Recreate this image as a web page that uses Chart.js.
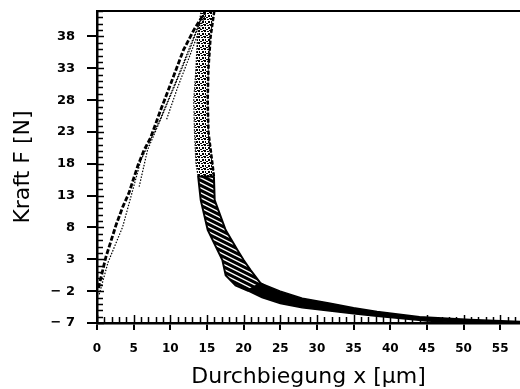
<!DOCTYPE html>
<html><head><meta charset="utf-8">
<script src="https://cdn.jsdelivr.net/npm/chart.js@4/dist/chart.umd.min.js"></script>
<style>html,body{margin:0;padding:0;background:#fff;overflow:hidden}</style>
</head><body>
<canvas id="c" width="520" height="389"></canvas>
<script>
// ---- axis ticks ----
const xTicks = [0,5,10,15,20,25,30,35,40,45,50,55];
const xTickLabels = ['0','5','10','15','20','25','30','35','40','45','50','55'];
const yTicks = [-7,-2,3,8,13,18,23,28,33,38];
const yTickLabels = ['\u2212 7','\u2212 2','3','8','13','18','23','28','33','38'];
const xRange = [0, 57.7];
const yRange = [-7, 42];
const minorStep = 1;

// ---- loading curves ----
const loadDarkX = [0.2, 1.2, 2.6, 3.5, 4.35, 5.6, 6.4, 7.35, 8.6, 10.1, 11.8, 13.2, 14.6];
const loadDarkY = [-1.5, 3.3, 8.4, 11.2, 13.4, 17.8, 20.1, 22.2, 26.2, 30.7, 35.9, 39.0, 41.6];
const loadDot1X = [0.3, 1.5, 3.5, 6.0, 8.7, 11.5, 14.2, 14.8];
const loadDot1Y = [-2.5, 2.5, 8.1, 18.6, 25.2, 33.0, 40.8, 42];
const loadDot2X = [5.75, 6.9, 8.5, 10.5, 12.5, 14.3];
const loadDot2Y = [14.4, 20.2, 24.5, 30.0, 35.5, 41.0];
const loadDot3X = [9.5, 11.0, 12.5, 13.8, 14.8];
const loadDot3Y = [25.0, 30.0, 34.5, 38.5, 41.5];

// ---- unloading band, upper speckled part ----
const upRightX = [16.0, 15.5, 15.2, 15.1, 15.2, 15.8, 15.95];
const upRightY = [42, 38, 33, 28, 23, 17.5, 16];
const upLeftX  = [13.8, 13.5, 13.3, 13.2, 13.5, 13.7, 14.2];
const upLeftY  = [16, 18, 23, 28, 33, 38, 42];

// ---- unloading band, hatched middle part ----
const midRightX = [15.95, 16.05, 17.55, 19.2, 20.0, 20.95, 22.3, 23.5];
const midRightY = [16, 12.3, 7.6, 4.4, 2.9, 1.3, -0.75, -1.6];
const midLeftX  = [20.5, 18.9, 17.55, 17.1, 15.1, 14.15, 13.8];
const midLeftY  = [-1.9, -1.1, 0.5, 2.9, 7.6, 12.3, 16];

// ---- tail ----
const tailUpX = [22.3, 25.0, 28.0, 31.8, 35.0, 38.2, 44.0, 50.9, 57.7];
const tailUpY = [-0.75, -2.0, -3.1, -3.9, -4.6, -5.2, -6.0, -6.45, -6.75];
const tailLowX = [57.7, 50.0, 45.0, 38.2, 35.0, 31.8, 28.0, 25.0, 22.5, 20.5];
const tailLowY = [-7.0, -6.95, -6.7, -5.95, -5.55, -5.1, -4.6, -3.95, -3.0, -1.9];

const pts = (xs, ys) => xs.map((x, i) => ({x, y: ys[i]}));
const poly = (ax, ay, bx, by) => { const p = pts(ax, ay).concat(pts(bx, by)); p.push(p[0]); return p; };

function makePattern(draw, w, h) {
  const c = document.createElement('canvas'); c.width = w; c.height = h;
  const g = c.getContext('2d'); draw(g, w, h);
  return g.createPattern(c, 'repeat');
}
const speckle = makePattern((g) => {
  g.fillStyle = '#000';
  g.fillRect(0, 0, 2, 2); g.fillRect(3, 1, 2, 1); g.fillRect(1, 3, 1, 2);
  g.fillRect(4, 3, 2, 2); g.fillRect(2, 5, 2, 1); g.fillRect(5, 0, 1, 1);
}, 6, 6);
const hatch = makePattern((g, w, h) => {
  g.strokeStyle = '#000'; g.lineWidth = 3.1;
  for (const k of [-1, 0, 1]) { g.beginPath(); g.moveTo(-2, -1 + k * h); g.lineTo(w + 2, h + 1 + k * h); g.stroke(); }
}, 10, 5);

const axisDeco = {
  id: 'axisDeco',
  afterDraw(chart) {
    const {ctx, chartArea: a, scales: {x, y}} = chart;
    ctx.save();
    ctx.strokeStyle = '#000';
    ctx.lineWidth = 2;
    ctx.beginPath(); ctx.moveTo(a.left, a.top); ctx.lineTo(a.right, a.top); ctx.stroke();
    ctx.lineWidth = 1.5;
    for (let v = Math.ceil(x.min); v <= x.max; v += minorStep) {
      const px = Math.round(x.getPixelForValue(v)) + 0.5;
      const major = xTicks.includes(v);
      ctx.beginPath(); ctx.moveTo(px, a.bottom); ctx.lineTo(px, a.bottom - (major ? 8 : 6)); ctx.stroke();
    }
    for (let v = Math.ceil(y.min); v <= y.max; v += minorStep) {
      const py = Math.round(y.getPixelForValue(v)) + 0.5;
      const major = yTicks.includes(v);
      ctx.beginPath(); ctx.moveTo(a.left, py); ctx.lineTo(a.left + (major ? 7 : 6), py); ctx.stroke();
    }
    ctx.restore();
  }
};

const tickFont = {family: 'DejaVu Sans', weight: 'bold', size: 12};
const titleFont = {family: 'DejaVu Sans', size: 22, lineHeight: 1.1};

new Chart(document.getElementById('c'), {
  type: 'line',
  data: {
    datasets: [
      {data: poly(upRightX, upRightY, upLeftX, upLeftY), fill: 'shape', backgroundColor: speckle,
       borderColor: '#000', borderWidth: 1.2, borderDash: [1.5, 1.5]},
      {data: pts(upRightX, upRightY), borderColor: '#000', borderWidth: 2.5, borderDash: [4, 2]},
      {data: poly(midRightX, midRightY, midLeftX, midLeftY), fill: 'shape', backgroundColor: hatch,
       borderColor: '#000', borderWidth: 2},
      {data: poly(tailUpX, tailUpY, tailLowX, tailLowY), fill: 'shape', backgroundColor: '#000',
       borderColor: '#000', borderWidth: 1.5},
      {data: pts(loadDot1X, loadDot1Y), borderColor: '#000', borderWidth: 1.2, borderDash: [1.5, 1.5]},
      {data: pts(loadDot2X, loadDot2Y), borderColor: '#000', borderWidth: 1.2, borderDash: [1.5, 1.5]},
      {data: pts(loadDot3X, loadDot3Y), borderColor: '#000', borderWidth: 1.2, borderDash: [1.5, 1.5]},
      {data: pts(loadDarkX, loadDarkY), borderColor: '#000', borderWidth: 2.8, borderDash: [5, 2]}
    ]
  },
  options: {
    responsive: false, animation: false,
    layout: {padding: {top: 11, right: 0, bottom: 0, left: 0}},
    elements: {point: {radius: 0}, line: {tension: 0}},
    plugins: {legend: {display: false}, tooltip: {enabled: false}},
    scales: {
      x: {
        type: 'linear', min: xRange[0], max: xRange[1],
        afterBuildTicks: s => { s.ticks = xTicks.map(v => ({value: v})); },
        afterFit: s => { s.height = 66; s.paddingLeft = 0; s.paddingRight = 0; },
        ticks: {callback: v => xTickLabels[xTicks.indexOf(v)], font: tickFont, color: '#000', padding: 12, maxRotation: 0, autoSkip: false},
        grid: {drawOnChartArea: false, tickLength: 7, color: '#000', lineWidth: 2},
        border: {display: true, color: '#000', width: 2.5},
        title: {display: true, text: 'Durchbiegung x [µm]', font: titleFont, color: '#000', padding: {top: 0, bottom: 0}}
      },
      y: {
        type: 'linear', min: yRange[0], max: yRange[1],
        afterBuildTicks: s => { s.ticks = yTicks.map(v => ({value: v})); },
        afterFit: s => { s.width = 97; s.paddingTop = 0; s.paddingBottom = 0; },
        ticks: {callback: v => yTickLabels[yTicks.indexOf(v)], font: {family: 'DejaVu Sans', weight: 'bold', size: 13}, color: '#000', padding: 12, autoSkip: false},
        grid: {drawOnChartArea: false, tickLength: 10, color: '#000', lineWidth: 2},
        border: {display: true, color: '#000', width: 2.5},
        title: {display: true, text: 'Kraft F [N]', font: titleFont, color: '#000', padding: {top: 11, bottom: 0}}
      }
    }
  },
  plugins: [axisDeco]
});
</script>
</body></html>
